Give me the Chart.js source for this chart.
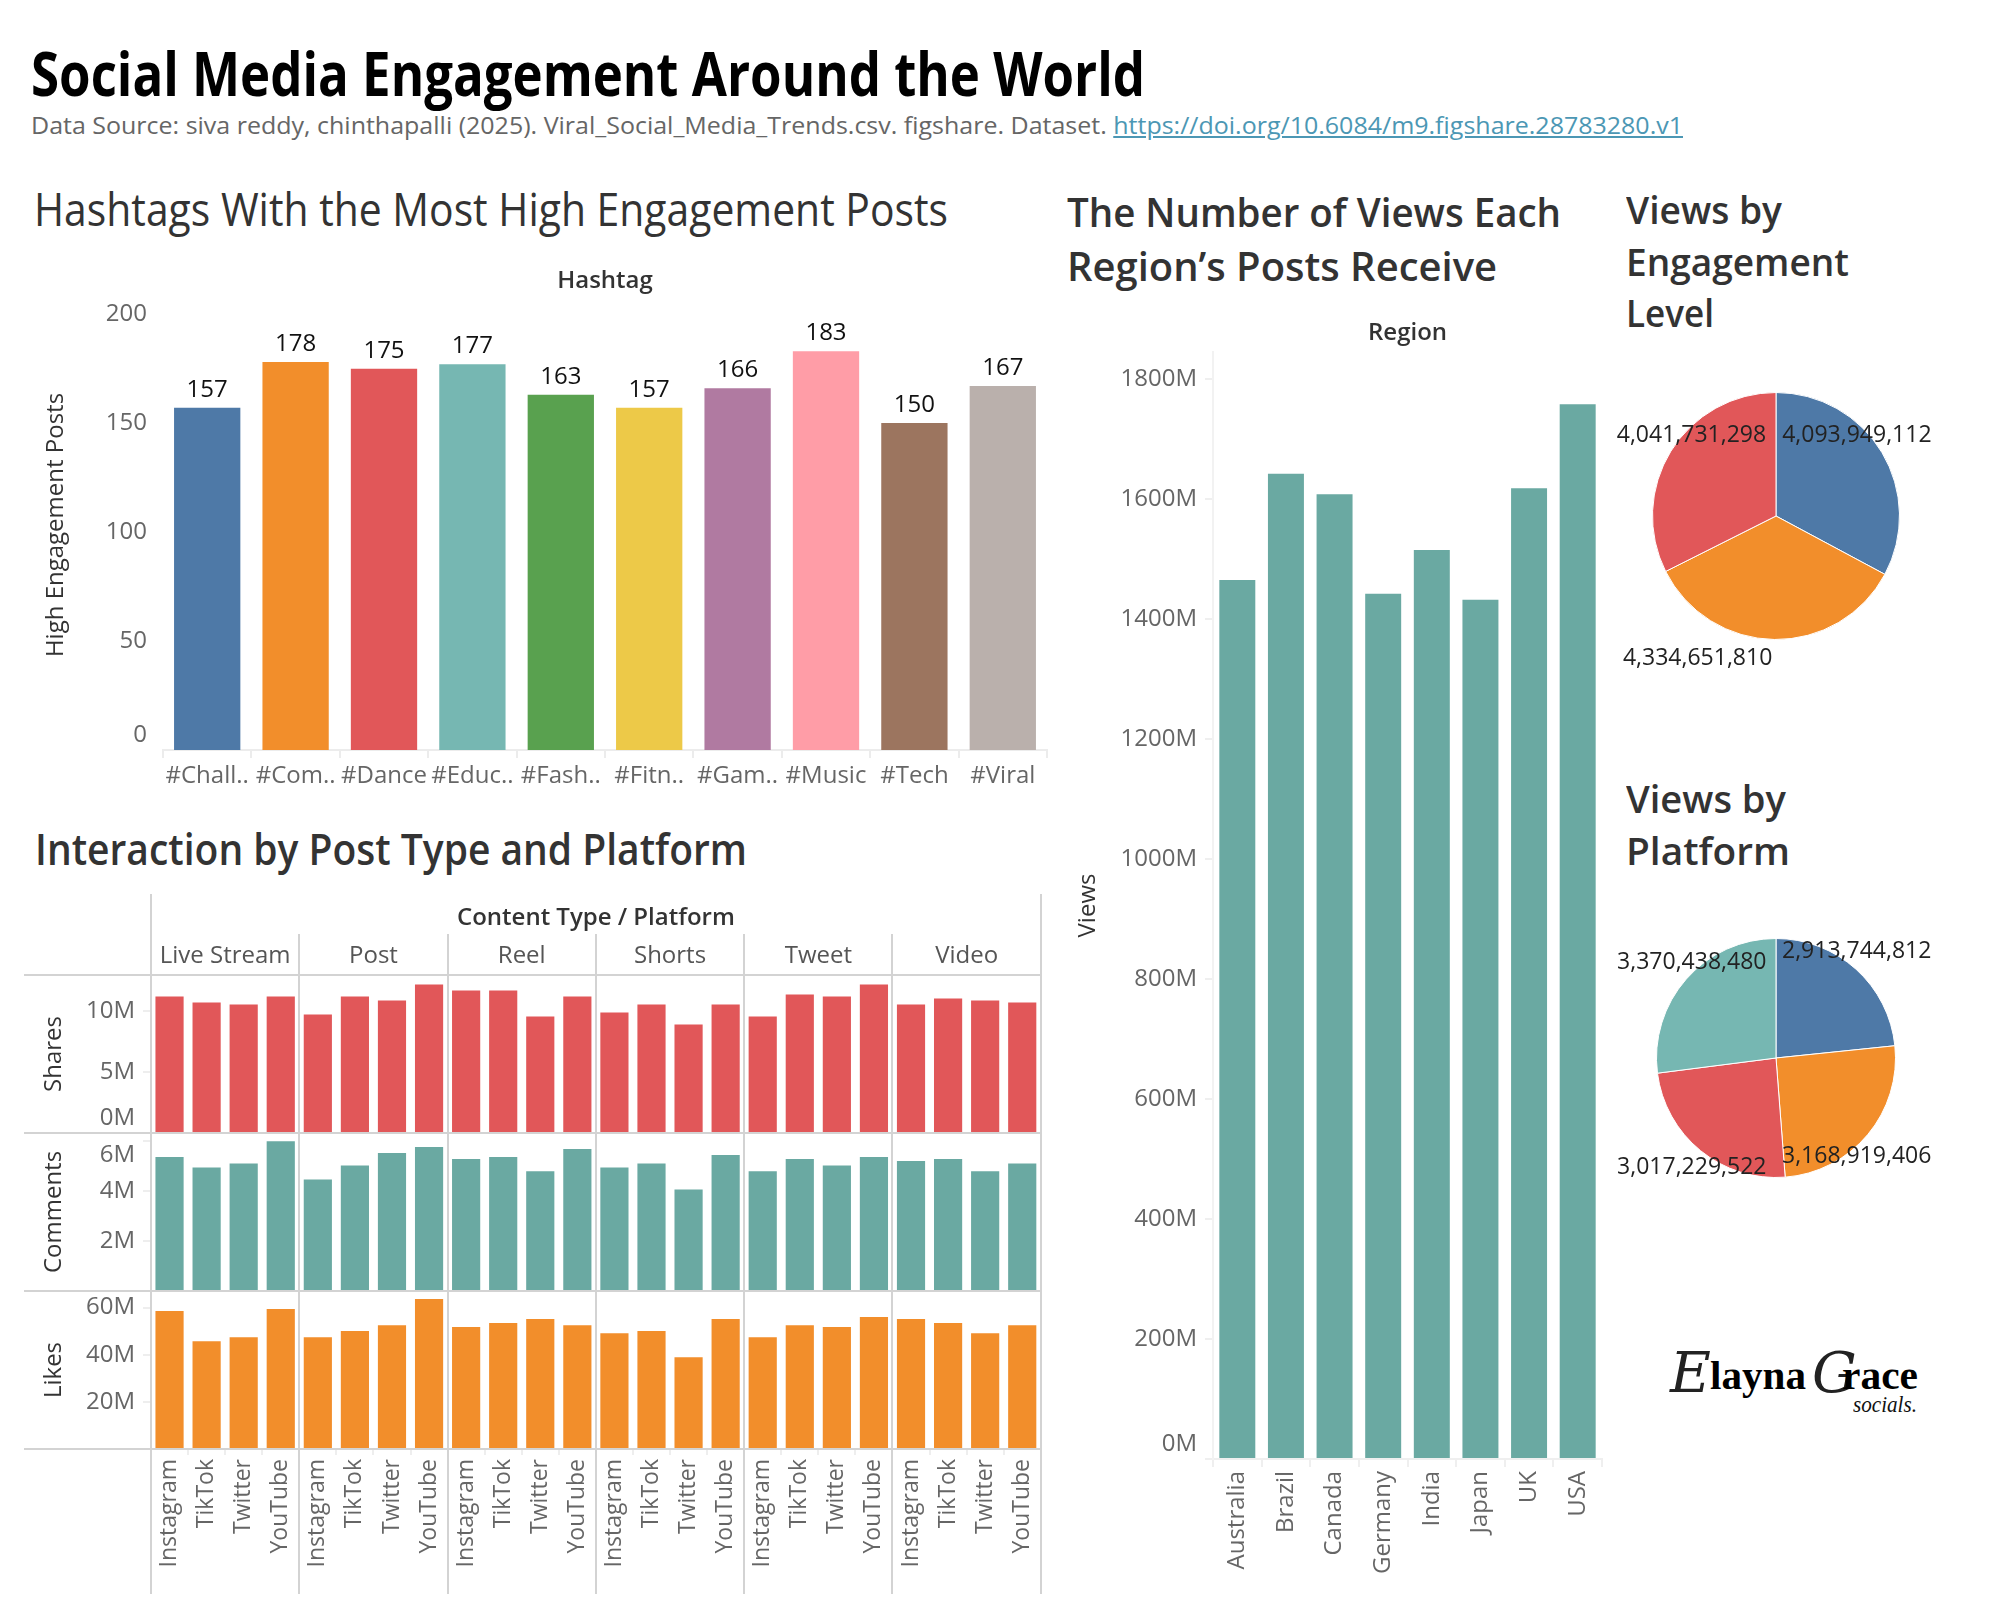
<!DOCTYPE html>
<html>
<head>
<meta charset="utf-8">
<title>Social Media Engagement Around the World</title>
<script src="https://cdn.jsdelivr.net/npm/chart.js@4.4.1/dist/chart.umd.min.js"></script>
<style>
    body {
        margin: 0;
        width: 2000px;
        height: 1600px;
        background: #fff;
        position: relative;
        overflow: hidden;
        font-family: 'Open Sans', sans-serif;
    }
    .t {
        position: absolute;
        white-space: nowrap;
        line-height: 1;
        transform-origin: 0 0;
    }
    .box { position: absolute; }
    .link { color: #4c97b4; text-decoration: underline; }
</style>
</head>
<body>

<!-- titles -->
<span class="t" data-w="1114" style="left:31px; top:32px; font:700 60px 'Open Sans'; color:#000;">Social Media Engagement Around the World</span>
<span class="t" data-w="1652" style="left:31px; top:108px; font:400 24px 'Open Sans'; color:#666;">Data Source: siva reddy, chinthapalli (2025). Viral_Social_Media_Trends.csv. figshare. Dataset. <span class="link">https://doi.org/10.6084/m9.figshare.28783280.v1</span></span>

<span class="t" data-w="914" style="left:34px; top:177px; font:400 46px 'Open Sans'; color:#333;">Hashtags With the Most High Engagement Posts</span>
<span class="t" data-w="712" style="left:35px; top:818px; font:600 44px 'Open Sans'; color:#333;">Interaction by Post Type and Platform</span>

<span class="t" data-w="494" style="left:1067px; top:184px; font:600 40px 'Open Sans'; color:#333;">The Number of Views Each</span>
<span class="t" data-w="430" style="left:1067px; top:238px; font:600 40px 'Open Sans'; color:#333;">Region’s Posts Receive</span>

<span class="t" data-w="156" style="left:1626px; top:183px; font:600 38px 'Open Sans'; color:#333;">Views by</span>
<span class="t" data-w="223" style="left:1626px; top:235px; font:600 38px 'Open Sans'; color:#333;">Engagement</span>
<span class="t" data-w="88" style="left:1626px; top:286px; font:600 38px 'Open Sans'; color:#333;">Level</span>

<span class="t" data-w="160" style="left:1626px; top:772px; font:600 38px 'Open Sans'; color:#333;">Views by</span>
<span class="t" data-w="164" style="left:1626px; top:824px; font:600 38px 'Open Sans'; color:#333;">Platform</span>

<!-- charts -->
<div class="box" style="left:20px; top:260px; width:1040px; height:540px;"><canvas id="hashtagChart"></canvas></div>
<div class="box" style="left:20px; top:880px; width:1034px; height:720px;"><canvas id="interactionChart"></canvas></div>
<div class="box" style="left:1070px; top:310px; width:545px; height:1290px;"><canvas id="regionChart"></canvas></div>
<div class="box" style="left:1610px; top:366px; width:370px; height:330px;"><canvas id="engagementPie"></canvas></div>
<div class="box" style="left:1610px; top:912px; width:370px; height:306px;"><canvas id="platformPie"></canvas></div>

<!-- logo -->
<span class="t" style="left:1670px; top:1340px; font:italic 400 56px 'DejaVu Serif'; color:#222;">E</span>
<span class="t" data-w="96" style="left:1710px; top:1352px; font:700 40px 'Liberation Serif'; color:#000;">layna</span>
<span class="t" style="left:1812px; top:1340px; font:italic 400 56px 'DejaVu Serif'; color:#222;">G</span>
<span class="t" data-w="76" style="left:1842px; top:1352px; font:700 40px 'Liberation Serif'; color:#000;">race</span>
<span class="t" data-w="64" style="left:1853px; top:1391px; font:italic 400 24px 'Liberation Serif'; color:#111;">socials.</span>

<script>
// ---------------- data ----------------
const hashtags = ['#Challenge', '#Comedy', '#Dance', '#Education', '#Fashion', '#Fitness', '#Gaming', '#Music', '#Tech', '#Viral'];
const hashtagTicks = ['#Chall..', '#Com..', '#Dance', '#Educ..', '#Fash..', '#Fitn..', '#Gam..', '#Music', '#Tech', '#Viral'];
const highEngagementPosts = [157, 178, 175, 177, 163, 157, 166, 183, 150, 167];
const postTicks = [0, 50, 100, 150, 200];

const regions = ['Australia', 'Brazil', 'Canada', 'Germany', 'India', 'Japan', 'UK', 'USA'];
const regionViewsM = [1465, 1642, 1608, 1442, 1515, 1432, 1618, 1758];
const viewTicksM = [0, 200, 400, 600, 800, 1000, 1200, 1400, 1600, 1800];

const contentTypes = ['Live Stream', 'Post', 'Reel', 'Shorts', 'Tweet', 'Video'];
const platforms = ['Instagram', 'TikTok', 'Twitter', 'YouTube'];
// one value per content type x platform, in millions
const sharesM = [
    11.23, 10.74, 10.57, 11.23,
    9.75, 11.23, 10.90, 12.22,
    11.72, 11.72, 9.58, 11.23,
    9.91, 10.57, 8.93, 10.57,
    9.58, 11.39, 11.23, 12.22,
    10.57, 11.07, 10.90, 10.74
];
const commentsM = [
    5.34, 4.92, 5.08, 5.97,
    4.45, 5.00, 5.50, 5.74,
    5.26, 5.34, 4.77, 5.66,
    4.92, 5.08, 4.05, 5.42,
    4.77, 5.26, 5.00, 5.34,
    5.18, 5.26, 4.77, 5.08
];
const likesM = [
    58.5, 45.7, 47.4, 59.4,
    47.4, 50.0, 52.5, 63.6,
    51.7, 53.4, 55.1, 52.5,
    49.1, 50.0, 38.9, 55.1,
    47.4, 52.5, 51.7, 56.0,
    55.1, 53.4, 49.1, 52.5
];
const shareTicks = [0, 5, 10];
const commentTicks = [2, 4, 6];
const likeTicks = [20, 40, 60];

const engagementLevels = ['High', 'Low', 'Medium'];
const engagementViews = [4093949112, 4334651810, 4041731298];
const platformViews = [2913744812, 3168919406, 3017229522, 3370438480];

// tableau 10
const tableau10 = ['#4e79a7', '#f28e2b', '#e15759', '#76b7b2', '#59a14f', '#edc948', '#b07aa1', '#ff9da7', '#9c755f', '#bab0ac'];
const teal = '#6aa9a2';

Chart.defaults.font.family = "'Open Sans', sans-serif";
Chart.defaults.color = '#666';
Chart.defaults.animation = false;
Chart.defaults.plugins.legend.display = false;
Chart.defaults.plugins.tooltip.enabled = false;

function fixedTicks(values) {
    return function (scale) {
        scale.ticks = values.map(function (v) { return { value: v }; });
    };
}

// tableau pushes a label that sits on the pane edge back inside the pane,
// an empty second line moves it half a line up (first) or down (last)
function tickLabel(suffix, nudgeFirst, nudgeLast) {
    return function (v, i, ticks) {
        const text = v + suffix;
        if (nudgeFirst && i === 0) return [text, ''];
        if (nudgeLast && i === ticks.length - 1) return ['', text];
        return text;
    };
}

// header text centred over the plot area
const headerPlugin = {
    id: 'header',
    afterDraw(chart, args, opts) {
        if (!opts.text) return;
        const { ctx, chartArea } = chart;
        ctx.save();
        ctx.font = "600 24px 'Open Sans'";
        ctx.fillStyle = '#333';
        ctx.textAlign = 'center';
        ctx.textBaseline = 'middle';
        ctx.fillText(opts.text, (chartArea.left + chartArea.right) / 2, chartArea.top - opts.offset);
        ctx.restore();
    }
};

// value on top of every bar
const barValues = {
    id: 'barValues',
    afterDatasetsDraw(chart) {
        const { ctx } = chart;
        const meta = chart.getDatasetMeta(0);
        const values = chart.data.datasets[0].data;
        ctx.save();
        ctx.font = "24px 'Open Sans'";
        ctx.fillStyle = '#111';
        ctx.textAlign = 'center';
        ctx.textBaseline = 'alphabetic';
        meta.data.forEach(function (bar, i) {
            ctx.fillText(values[i], bar.x, bar.y - 11);
        });
        ctx.restore();
    }
};

// pie labels, placed relative to the arc centre in radius units
const sliceLabels = {
    id: 'sliceLabels',
    afterDatasetsDraw(chart, args, opts) {
        const { ctx } = chart;
        const meta = chart.getDatasetMeta(0);
        const values = chart.data.datasets[0].data;
        ctx.save();
        ctx.font = "23px 'Open Sans'";
        ctx.fillStyle = '#222';
        ctx.textBaseline = 'middle';
        meta.data.forEach(function (arc, i) {
            const spot = opts.spots[i];
            ctx.textAlign = spot.align;
            ctx.fillText(values[i].toLocaleString('en-US'),
                arc.x + spot.dx * arc.outerRadius,
                arc.y + spot.dy * arc.outerRadius);
        });
        ctx.restore();
    }
};

// table frame + column headers for the small multiples
const panelFrame = {
    id: 'panelFrame',
    afterDatasetsDraw(chart, args, opts) {
        const { ctx, chartArea, scales } = chart;
        const x = scales.x;
        const n = opts.groupSize;
        const groups = opts.groups;
        const edges = [];
        for (let k = 0; k <= groups.length; k++) {
            if (k === 0) edges.push(chartArea.left);
            else if (k === groups.length) edges.push(chartArea.right);
            else edges.push((x.getPixelForValue(k * n - 1) + x.getPixelForValue(k * n)) / 2);
        }
        const rows = [];
        Object.values(scales).forEach(function (s) {
            if (s.axis === 'y') { rows.push(s.top, s.bottom); }
        });

        ctx.save();
        ctx.strokeStyle = '#d3d3d3';
        ctx.lineWidth = 2;
        ctx.beginPath();
        rows.forEach(function (y) {
            ctx.moveTo(opts.rowStart, Math.round(y));
            ctx.lineTo(chartArea.right + 1, Math.round(y));
        });
        edges.forEach(function (ex, k) {
            const outer = (k === 0 || k === edges.length - 1);
            ctx.moveTo(Math.round(ex), chartArea.top - (outer ? opts.outerRise : opts.innerRise));
            ctx.lineTo(Math.round(ex), chart.height - 6);
        });
        ctx.stroke();

        ctx.textAlign = 'center';
        ctx.textBaseline = 'alphabetic';
        ctx.font = "24px 'Open Sans'";
        ctx.fillStyle = '#555';
        groups.forEach(function (g, k) {
            ctx.fillText(g, (edges[k] + edges[k + 1]) / 2, chartArea.top - 12);
        });
        ctx.font = "600 24px 'Open Sans'";
        ctx.fillStyle = '#333';
        ctx.textBaseline = 'middle';
        ctx.fillText(opts.title, (chartArea.left + chartArea.right) / 2, chartArea.top - 57);
        ctx.restore();
    }
};

// ---------------- hashtag bars ----------------
new Chart(document.getElementById('hashtagChart'), {
    type: 'bar',
    data: {
        labels: hashtags,
        datasets: [{
            label: 'High Engagement Posts',
            data: highEngagementPosts,
            backgroundColor: tableau10,
            categoryPercentage: 0.75,
            barPercentage: 1
        }]
    },
    options: {
        responsive: true,
        maintainAspectRatio: false,
        layout: { padding: { top: 40, right: 13, left: 0, bottom: 0 } },
        plugins: { header: { text: 'Hashtag', offset: 19 } },
        scales: {
            x: {
                grid: { drawOnChartArea: false, drawTicks: true, tickLength: 8, color: '#ececec', lineWidth: 2 },
                border: { display: true, color: '#ececec', width: 2 },
                ticks: {
                    autoSkip: false, maxRotation: 0, padding: 4,
                    font: { size: 24 }, color: '#666',
                    callback: function (v, i) { return hashtagTicks[i]; }
                },
                afterFit: function (s) { s.height = 50; }
            },
            y: {
                min: 0, max: 206.5,
                afterBuildTicks: fixedTicks(postTicks),
                grid: { display: false, drawTicks: false },
                border: { display: false },
                ticks: { autoSkip: false, padding: 16, font: { size: 24 }, color: '#666', callback: tickLabel('', true, false) },
                title: { display: true, text: 'High Engagement Posts', font: { size: 24 }, color: '#333', padding: { top: 22, bottom: 0 } },
                afterFit: function (s) { s.width = 143; }
            }
        }
    },
    plugins: [headerPlugin, barValues]
});

// ---------------- interaction small multiples ----------------
const comboLabels = [];
contentTypes.forEach(function (ct) {
    platforms.forEach(function (p) { comboLabels.push(ct + ' / ' + p); });
});

function rowAxis(title, max, ticks, weight, nudgeFirst, nudgeLast) {
    return {
        stack: 'rows', stackWeight: 1, weight: weight,
        min: 0, max: max,
        afterBuildTicks: fixedTicks(ticks),
        grid: { drawOnChartArea: false, drawTicks: true, tickLength: 8, color: '#eeeeee', lineWidth: 2 },
        border: { display: false },
        ticks: { autoSkip: false, padding: 8, font: { size: 24 }, color: '#666', callback: tickLabel('M', nudgeFirst, nudgeLast) },
        title: { display: true, text: title, font: { size: 24 }, color: '#333', padding: { top: 20, bottom: 0 } },
        afterFit: function (s) { s.width = 131; }
    };
}

new Chart(document.getElementById('interactionChart'), {
    type: 'bar',
    data: {
        labels: comboLabels,
        datasets: [
            { label: 'Shares', data: sharesM, yAxisID: 'yShares', backgroundColor: '#e15759', grouped: false, categoryPercentage: 0.76, barPercentage: 1 },
            { label: 'Comments', data: commentsM, yAxisID: 'yComments', backgroundColor: teal, grouped: false, categoryPercentage: 0.76, barPercentage: 1 },
            { label: 'Likes', data: likesM, yAxisID: 'yLikes', backgroundColor: '#f28e2b', grouped: false, categoryPercentage: 0.76, barPercentage: 1 }
        ]
    },
    options: {
        responsive: true,
        maintainAspectRatio: false,
        layout: { padding: { top: 95, right: 8, left: 0, bottom: 0 } },
        plugins: {
            panelFrame: { groups: contentTypes, groupSize: platforms.length, title: 'Content Type / Platform', rowStart: 4, outerRise: 81, innerRise: 41 }
        },
        scales: {
            x: {
                grid: { drawOnChartArea: false, drawTicks: true, tickLength: 6, color: '#eeeeee', lineWidth: 2 },
                border: { display: false },
                ticks: {
                    autoSkip: false, minRotation: 90, maxRotation: 90, padding: 4,
                    font: { size: 23 }, color: '#666',
                    callback: function (v, i) { return platforms[i % platforms.length]; }
                },
                afterFit: function (s) { s.height = 151; }
            },
            yShares: rowAxis('Shares', 13, shareTicks, 3, true, false),
            yComments: rowAxis('Comments', 6.3, commentTicks, 2, false, true),
            yLikes: rowAxis('Likes', 67, likeTicks, 1, false, false)
        }
    },
    plugins: [panelFrame]
});

// ---------------- region bars ----------------
new Chart(document.getElementById('regionChart'), {
    type: 'bar',
    data: {
        labels: regions,
        datasets: [{
            label: 'Views',
            data: regionViewsM,
            backgroundColor: teal,
            categoryPercentage: 0.74,
            barPercentage: 1
        }]
    },
    options: {
        responsive: true,
        maintainAspectRatio: false,
        layout: { padding: { top: 42, right: 13, left: 0, bottom: 0 } },
        plugins: { header: { text: 'Region', offset: 19 } },
        scales: {
            x: {
                grid: { drawOnChartArea: false, drawTicks: true, tickLength: 8, color: '#efefef', lineWidth: 2 },
                border: { display: true, color: '#efefef', width: 2 },
                ticks: { autoSkip: false, minRotation: 90, maxRotation: 90, padding: 4, font: { size: 24 }, color: '#666' },
                afterFit: function (s) { s.height = 141; }
            },
            y: {
                min: 0, max: 1845,
                afterBuildTicks: fixedTicks(viewTicksM),
                grid: { drawOnChartArea: false, drawTicks: true, tickLength: 8, color: '#efefef', lineWidth: 2 },
                border: { display: true, color: '#f2f2f2', width: 2 },
                ticks: { autoSkip: false, padding: 8, font: { size: 24 }, color: '#666', callback: tickLabel('M', true, false) },
                title: { display: true, text: 'Views', font: { size: 24 }, color: '#333', padding: { top: 4, bottom: 0 } },
                afterFit: function (s) { s.width = 143; }
            }
        }
    },
    plugins: [headerPlugin]
});

// ---------------- pies ----------------
new Chart(document.getElementById('engagementPie'), {
    type: 'pie',
    data: {
        labels: engagementLevels,
        datasets: [{ data: engagementViews, backgroundColor: tableau10.slice(0, 3), borderColor: '#fff', borderWidth: 1 }]
    },
    options: {
        responsive: true,
        maintainAspectRatio: false,
        layout: { padding: { left: 42, right: 80, top: 26, bottom: 56 } },
        plugins: {
            sliceLabels: {
                spots: [
                    { dx: 0.05, dy: -0.65, align: 'left' },
                    { dx: -0.03, dy: 1.15, align: 'right' },
                    { dx: -0.08, dy: -0.65, align: 'right' }
                ]
            }
        }
    },
    plugins: [sliceLabels]
});

new Chart(document.getElementById('platformPie'), {
    type: 'pie',
    data: {
        labels: platforms,
        datasets: [{ data: platformViews, backgroundColor: tableau10.slice(0, 4), borderColor: '#fff', borderWidth: 1 }]
    },
    options: {
        responsive: true,
        maintainAspectRatio: false,
        layout: { padding: { left: 46, right: 84, top: 26, bottom: 40 } },
        plugins: {
            sliceLabels: {
                spots: [
                    { dx: 0.05, dy: -0.89, align: 'left' },
                    { dx: 0.05, dy: 0.82, align: 'left' },
                    { dx: -0.08, dy: 0.92, align: 'right' },
                    { dx: -0.08, dy: -0.80, align: 'right' }
                ]
            }
        }
    },
    plugins: [sliceLabels]
});

// squeeze the html titles to the widths of the original lettering
function fitTitles() {
    document.querySelectorAll('[data-w]').forEach(function (el) {
        const w = el.getBoundingClientRect().width;
        if (w > 0) el.style.transform = 'scaleX(' + (parseFloat(el.dataset.w) / w) + ')';
    });
}
if (document.fonts && document.fonts.ready) {
    document.fonts.ready.then(fitTitles);
} else {
    fitTitles();
}
</script>
</body>
</html>
